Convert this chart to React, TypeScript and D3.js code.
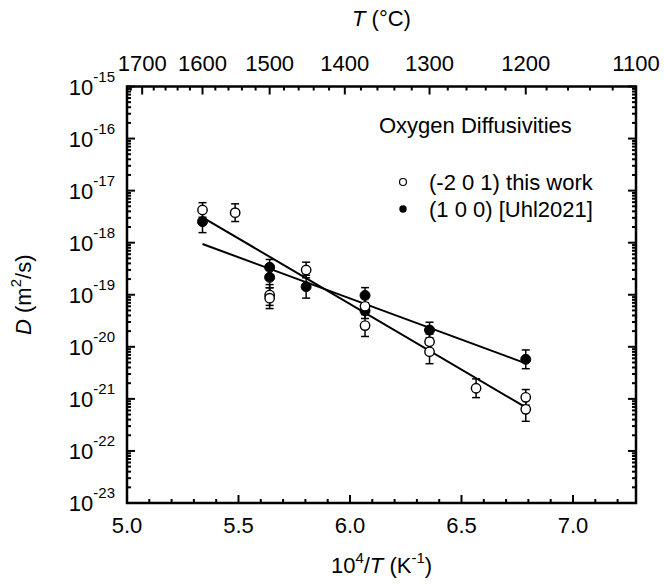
import React from 'react';
import * as d3 from 'd3';

// temperatures in °C, D in m^2/s, err in decades (log10)
const openT = [1600, 1550, 1500, 1500, 1450, 1375, 1375, 1300, 1300, 1250, 1200, 1200];
const openD = [4.25e-18, 3.77e-18, 9.9e-20, 8.6e-20, 2.99e-19, 6.0e-20, 2.56e-20, 1.25e-20, 8.05e-21, 1.6e-21, 1.07e-21, 6.3e-22];
const openErr = [0.14, 0.17, 0.2, 0.2, 0.15, 0.15, 0.21, 0.15, 0.23, 0.18, 0.15, 0.23];

const filledT = [1600, 1500, 1500, 1450, 1375, 1375, 1300, 1200];
const filledD = [2.53e-18, 3.37e-19, 2.16e-19, 1.43e-19, 9.7e-20, 4.94e-20, 2.1e-20, 5.75e-21];
const filledErr = [0.21, 0.15, 0.2, 0.22, 0.15, 0.15, 0.15, 0.18];

// Arrhenius fit lines, end points
const fitT = [1600, 1200];
const fitOpenD = [3.07e-18, 6.89e-22];
const fitFilledD = [9.44e-19, 4.82e-21];

const xTicks = [5.0, 5.5, 6.0, 6.5, 7.0];
const yExps = [-15, -16, -17, -18, -19, -20, -21, -22, -23];
const topTicks = [1700, 1600, 1500, 1400, 1300, 1200, 1100];

const toX = (t: number) => 1e4 / (t + 273.15);

const W = 664, H = 584;
const left = 127, right = 636, top = 86.5, bottom = 503;
const FONT = 'Liberation Sans, Arial, sans-serif';

const App = () => {
  const x = d3.scaleLinear().domain([5.0, toX(1100)]).range([left, right]);
  const y = d3.scaleLog().domain([1e-23, 1e-15]).range([bottom, top]);

  const minorX = d3.range(50, 73).map(v => v / 10).filter(v => v * 10 % 5 !== 0 && x(v) < right);
  const minorTop = d3.range(1120, 1730, 20).filter(t => t % 100 !== 0 && x(toX(t)) > left);
  const minorY: number[] = [];
  for (let e = -23; e < -15; e++) {
    for (let m = 2; m <= 9; m++) minorY.push(m * Math.pow(10, e));
  }

  const line = d3.line<number>()
    .x((_, i) => x(toX(fitT[i])))
    .y(d => y(d));

  const errBar = (t: number, d: number, e: number, key: string) => {
    const cx = x(toX(t));
    const y1 = y(d * Math.pow(10, e)), y2 = y(d / Math.pow(10, e));
    return (
      <g key={key} stroke="black" strokeWidth={1.5}>
        <line x1={cx} x2={cx} y1={y1} y2={y2} />
        <line x1={cx - 4} x2={cx + 4} y1={y1} y2={y1} />
        <line x1={cx - 4} x2={cx + 4} y1={y2} y2={y2} />
      </g>
    );
  };

  return (
    <svg width={W} height={H} style={{ position: 'absolute', left: 0, top: 0, background: 'white' }} fontFamily={FONT}>
      {/* ticks */}
      <g stroke="black" strokeWidth={2}>
        {xTicks.map(v => (
          <line key={'xb' + v} x1={x(v)} x2={x(v)} y1={bottom} y2={bottom - 8} />
        ))}
        {minorX.map(v => (
          <line key={'xm' + v} x1={x(v)} x2={x(v)} y1={bottom} y2={bottom - 4} />
        ))}
        {topTicks.map(t => (
          <line key={'tt' + t} x1={x(toX(t))} x2={x(toX(t))} y1={top} y2={top + 8} />
        ))}
        {minorTop.map(t => (
          <line key={'tm' + t} x1={x(toX(t))} x2={x(toX(t))} y1={top} y2={top + 4} />
        ))}
        {yExps.map(e => (
          <g key={'ye' + e}>
            <line x1={left} x2={left + 8} y1={y(Math.pow(10, e))} y2={y(Math.pow(10, e))} />
            <line x1={right} x2={right - 8} y1={y(Math.pow(10, e))} y2={y(Math.pow(10, e))} />
          </g>
        ))}
        {minorY.map((v, i) => (
          <g key={'ym' + i}>
            <line x1={left} x2={left + 4} y1={y(v)} y2={y(v)} />
            <line x1={right} x2={right - 4} y1={y(v)} y2={y(v)} />
          </g>
        ))}
      </g>
      <rect x={left} y={top} width={right - left} height={bottom - top} fill="none" stroke="black" strokeWidth={2.5} />

      {/* tick labels */}
      <g fontSize={22} fill="black">
        {xTicks.map(v => (
          <text key={'xl' + v} x={x(v)} y={533} textAnchor="middle">{v.toFixed(1)}</text>
        ))}
        {topTicks.map(t => (
          <text key={'tl' + t} x={x(toX(t))} y={71} textAnchor="middle">{t}</text>
        ))}
        {yExps.map(e => (
          <text key={'yl' + e} x={115} y={y(Math.pow(10, e)) + 8} textAnchor="end">
            10<tspan fontSize={15} dy={-13}>{e}</tspan>
          </text>
        ))}
      </g>

      {/* axis titles */}
      <g fontSize={22} fill="black">
        <text x={(left + right) / 2} y={26} textAnchor="middle">
          <tspan fontStyle="italic">T</tspan> (°C)
        </text>
        <text x={(left + right) / 2} y={573} textAnchor="middle">
          10<tspan fontSize={15} dy={-10}>4</tspan><tspan dy={10}>/</tspan><tspan fontStyle="italic">T</tspan> (K<tspan fontSize={15} dy={-10}>-1</tspan><tspan dy={10}>)</tspan>
        </text>
        <text transform={`translate(31, ${(top + bottom) / 2}) rotate(-90)`} textAnchor="middle">
          <tspan fontStyle="italic">D</tspan> (m<tspan fontSize={15} dy={-10}>2</tspan><tspan dy={10}>/s)</tspan>
        </text>
      </g>

      {/* fit lines */}
      <path d={line(fitOpenD) || ''} fill="none" stroke="black" strokeWidth={2} />
      <path d={line(fitFilledD) || ''} fill="none" stroke="black" strokeWidth={2} />

      {/* data */}
      {filledT.map((t, i) => errBar(t, filledD[i], filledErr[i], 'fe' + i))}
      {openT.map((t, i) => errBar(t, openD[i], openErr[i], 'oe' + i))}
      {filledT.map((t, i) => (
        <circle key={'fc' + i} cx={x(toX(t))} cy={y(filledD[i])} r={5} fill="black" stroke="black" strokeWidth={1} />
      ))}
      {openT.map((t, i) => (
        <circle key={'oc' + i} cx={x(toX(t))} cy={y(openD[i])} r={4.7} fill="white" stroke="black" strokeWidth={1.4} />
      ))}

      {/* legend */}
      <g fontSize={22} fill="black">
        <text x={379} y={133}>Oxygen Diffusivities</text>
        <circle cx={403} cy={182} r={3.5} fill="white" stroke="black" strokeWidth={1.2} />
        <text x={429} y={190}>(-2 0 1) this work</text>
        <circle cx={403} cy={209} r={3.7} fill="black" />
        <text x={429} y={217}>(1 0 0) [Uhl2021]</text>
      </g>
    </svg>
  );
};

export default App;
